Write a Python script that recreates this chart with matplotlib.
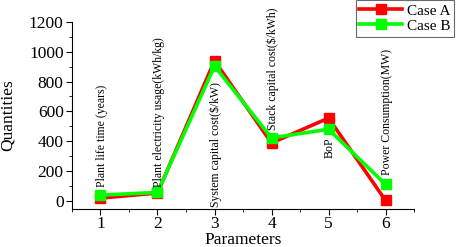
import numpy as np
import matplotlib.pyplot as plt
from matplotlib.ticker import MultipleLocator

plt.rcParams['font.family'] = ['Liberation Serif', 'DejaVu Serif']

# data
params = [1, 2, 3, 4, 5, 6]
case_a = [18, 52, 940, 388, 555, 2]
case_b = [38, 56, 904, 422, 480, 110]
labels = ['Plant life time (years)', 'Plant electricity usage(kWh/kg)',
          'System capital cost($/kW)', 'Stack capital cost($/kWh)',
          'BoP', 'Power Consumption(MW)']
# bottom of each rotated label, in data units
label_y = [92, 92, -42, 474, 287, 172]

fig = plt.figure(figsize=(4.57, 2.47), dpi=100)
ax = fig.add_axes([0.1575, 0.154, 0.7485, 0.757])

ax.plot(params, case_a, color='#ff0000', lw=2.6, marker='s', ms=7, label='Case A')
ax.plot(params, case_b, color='#00ff00', lw=2.6, marker='s', ms=7, label='Case B')

for x, y, t in zip(params, label_y, labels):
    ax.text(x + 0.02, y, t, rotation=90, ha='center', va='bottom', fontsize=8.5)

ax.set_xlim(0.5, 6.5)
ax.set_ylim(-55, 1200)
ax.set_yticks([0, 200, 400, 600, 800, 1000, 1200])
ax.xaxis.set_minor_locator(MultipleLocator(0.5))
ax.yaxis.set_minor_locator(MultipleLocator(100))
ax.tick_params(which='both', direction='out', labelsize=12.5)
ax.tick_params(which='major', length=4, pad=2)
ax.tick_params(axis='x', which='major', pad=1)
ax.tick_params(which='minor', length=2.5)
ax.spines['top'].set_visible(False)
ax.spines['right'].set_visible(False)

ax.set_xlabel('Parameters', fontsize=12.5)
ax.set_ylabel('Quantities', fontsize=12.5)
ax.xaxis.set_label_coords(0.5, -0.125)
ax.yaxis.set_label_coords(-0.165, 0.5)

leg = ax.legend(loc='upper right', bbox_to_anchor=(454 / 457, 1.0),
                bbox_transform=fig.transFigure, borderaxespad=0, fontsize=11,
                fancybox=False, edgecolor='#444444', handlelength=2.8,
                borderpad=0.25, labelspacing=0.1, handletextpad=0.3)
leg.get_frame().set_linewidth(0.8)

fig.savefig('out.png', dpi=100)
